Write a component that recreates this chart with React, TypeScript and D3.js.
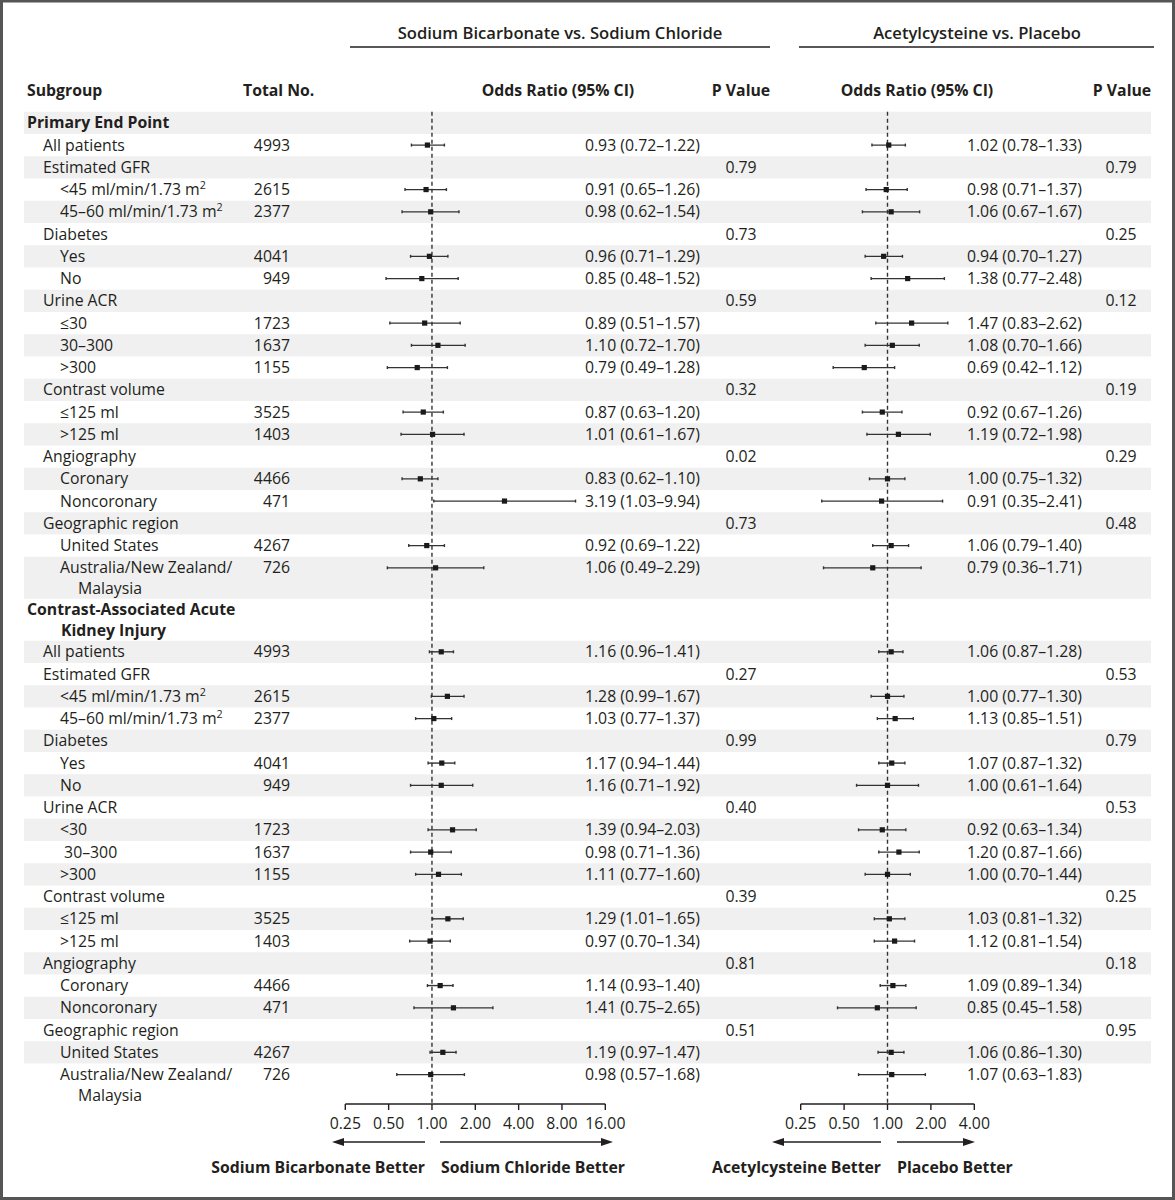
import React from "react";
import * as d3 from "d3";

// ---------- DATA ----------
const rowLabels: string[] = [
  "Primary End Point", "All patients", "Estimated GFR", "<45 ml/min/1.73 m|2", "45–60 ml/min/1.73 m|2",
  "Diabetes", "Yes", "No", "Urine ACR", "≤30", "30–300", ">300", "Contrast volume", "≤125 ml", ">125 ml",
  "Angiography", "Coronary", "Noncoronary", "Geographic region", "United States", "Australia/New Zealand/\nMalaysia",
  "Contrast-Associated Acute\nKidney Injury", "All patients", "Estimated GFR", "<45 ml/min/1.73 m|2", "45–60 ml/min/1.73 m|2",
  "Diabetes", "Yes", "No", "Urine ACR", "<30", " 30–300", ">300", "Contrast volume", "≤125 ml", ">125 ml",
  "Angiography", "Coronary", "Noncoronary", "Geographic region", "United States", "Australia/New Zealand/\nMalaysia",
];
const rowLevels: number[] = [
  0, 1, 1, 2, 2, 1, 2, 2, 1, 2, 2, 2, 1, 2, 2, 1, 2, 2, 1, 2, 2,
  0, 1, 1, 2, 2, 1, 2, 2, 1, 2, 2, 2, 1, 2, 2, 1, 2, 2, 1, 2, 2,
];
const totals: (number | null)[] = [
  null, 4993, null, 2615, 2377, null, 4041, 949, null, 1723, 1637, 1155, null, 3525, 1403, null, 4466, 471, null, 4267, 726,
  null, 4993, null, 2615, 2377, null, 4041, 949, null, 1723, 1637, 1155, null, 3525, 1403, null, 4466, 471, null, 4267, 726,
];
const bicarbOR: (number | null)[] = [
  null, 0.93, null, 0.91, 0.98, null, 0.96, 0.85, null, 0.89, 1.10, 0.79, null, 0.87, 1.01, null, 0.83, 3.19, null, 0.92, 1.06,
  null, 1.16, null, 1.28, 1.03, null, 1.17, 1.16, null, 1.39, 0.98, 1.11, null, 1.29, 0.97, null, 1.14, 1.41, null, 1.19, 0.98,
];
const bicarbLo: (number | null)[] = [
  null, 0.72, null, 0.65, 0.62, null, 0.71, 0.48, null, 0.51, 0.72, 0.49, null, 0.63, 0.61, null, 0.62, 1.03, null, 0.69, 0.49,
  null, 0.96, null, 0.99, 0.77, null, 0.94, 0.71, null, 0.94, 0.71, 0.77, null, 1.01, 0.70, null, 0.93, 0.75, null, 0.97, 0.57,
];
const bicarbHi: (number | null)[] = [
  null, 1.22, null, 1.26, 1.54, null, 1.29, 1.52, null, 1.57, 1.70, 1.28, null, 1.20, 1.67, null, 1.10, 9.94, null, 1.22, 2.29,
  null, 1.41, null, 1.67, 1.37, null, 1.44, 1.92, null, 2.03, 1.36, 1.60, null, 1.65, 1.34, null, 1.40, 2.65, null, 1.47, 1.68,
];
const bicarbP: (string | null)[] = [
  null, null, "0.79", null, null, "0.73", null, null, "0.59", null, null, null, "0.32", null, null, "0.02", null, null, "0.73", null, null,
  null, null, "0.27", null, null, "0.99", null, null, "0.40", null, null, null, "0.39", null, null, "0.81", null, null, "0.51", null, null,
];
const acetylOR: (number | null)[] = [
  null, 1.02, null, 0.98, 1.06, null, 0.94, 1.38, null, 1.47, 1.08, 0.69, null, 0.92, 1.19, null, 1.00, 0.91, null, 1.06, 0.79,
  null, 1.06, null, 1.00, 1.13, null, 1.07, 1.00, null, 0.92, 1.20, 1.00, null, 1.03, 1.12, null, 1.09, 0.85, null, 1.06, 1.07,
];
const acetylLo: (number | null)[] = [
  null, 0.78, null, 0.71, 0.67, null, 0.70, 0.77, null, 0.83, 0.70, 0.42, null, 0.67, 0.72, null, 0.75, 0.35, null, 0.79, 0.36,
  null, 0.87, null, 0.77, 0.85, null, 0.87, 0.61, null, 0.63, 0.87, 0.70, null, 0.81, 0.81, null, 0.89, 0.45, null, 0.86, 0.63,
];
const acetylHi: (number | null)[] = [
  null, 1.33, null, 1.37, 1.67, null, 1.27, 2.48, null, 2.62, 1.66, 1.12, null, 1.26, 1.98, null, 1.32, 2.41, null, 1.40, 1.71,
  null, 1.28, null, 1.30, 1.51, null, 1.32, 1.64, null, 1.34, 1.66, 1.44, null, 1.32, 1.54, null, 1.34, 1.58, null, 1.30, 1.83,
];
const acetylP: (string | null)[] = [
  null, null, "0.79", null, null, "0.25", null, null, "0.12", null, null, null, "0.19", null, null, "0.29", null, null, "0.48", null, null,
  null, null, "0.53", null, null, "0.79", null, null, "0.53", null, null, null, "0.25", null, null, "0.18", null, null, "0.95", null, null,
];
const bicarbTicks: number[] = [0.25, 0.5, 1, 2, 4, 8, 16];
const acetylTicks: number[] = [0.25, 0.5, 1, 2, 4];

// ---------- LAYOUT ----------
const FONT = "'Open Sans', 'Noto Sans', sans-serif";
const FS = 15.8;
const TXT = "#231f20";
const W = 1175, H = 1200;
const TOP0 = 111.7, ROW_H = 22.25, DOUBLE_H = 42, LINE2 = 21;
const indentX = [27, 43, 60];
const AXIS_Y = 1104;

const xB = d3.scaleLog().base(2).domain([0.25, 16]).range([345.3, 605.3]);
const xA = d3.scaleLog().base(2).domain([0.25, 4]).range([800.7, 974.3]);

const fmt = d3.format(".2f");

function Label({ text, x, y, bold }: { text: string; x: number; y: number; bold: boolean }) {
  const parts = text.split("|");
  return (
    <text x={x} y={y} dy="0.35em" fontWeight={bold ? 700 : 400} xmlSpace="preserve">
      {parts[0]}
      {parts[1] ? (
        <tspan fontSize={FS * 0.68} dy="-0.55em">{parts[1]}</tspan>
      ) : null}
    </text>
  );
}

function Arrow({ x1, x2, y }: { x1: number; x2: number; y: number }) {
  const dir = Math.sign(x2 - x1);
  const hl = 12, hw = 4;
  return (
    <g>
      <line x1={x1} x2={x2 - dir * hl} y1={y} y2={y} stroke={TXT} strokeWidth={1.5} />
      <path d={`M${x2},${y} L${x2 - dir * hl},${y - hw} L${x2 - dir * hl},${y + hw} Z`} fill={TXT} />
    </g>
  );
}

export default function App() {
  const tops: number[] = [];
  const heights: number[] = [];
  let t = TOP0;
  rowLabels.forEach((lab) => {
    const h = lab.includes("\n") ? DOUBLE_H : ROW_H;
    tops.push(t);
    heights.push(h);
    t += h;
  });

  const forest = (
    scale: d3.ScaleLogarithmic<number, number>,
    or: (number | null)[], lo: (number | null)[], hi: (number | null)[], key: string
  ) =>
    or.map((v, i) => {
      if (v == null) return null;
      const cy = tops[i] + ROW_H / 2;
      const x1 = scale(lo[i] as number), x2 = scale(hi[i] as number), xc = scale(v);
      return (
        <g key={key + i}>
          <line x1={x1} x2={x2} y1={cy} y2={cy} stroke="#333" strokeWidth={1.4} />
          <line x1={x1} x2={x1} y1={cy - 1.5} y2={cy + 1.5} stroke="#333" strokeWidth={1.4} />
          <line x1={x2} x2={x2} y1={cy - 1.5} y2={cy + 1.5} stroke="#333" strokeWidth={1.4} />
          <rect x={xc - 2.6} y={cy - 2.6} width={5.2} height={5.2} fill="#1a1a1a" />
        </g>
      );
    });

  const axis = (scale: d3.ScaleLogarithmic<number, number>, ticks: number[], key: string) => (
    <g key={key}>
      <line x1={scale(ticks[0])} x2={scale(ticks[ticks.length - 1])} y1={AXIS_Y} y2={AXIS_Y} stroke={TXT} strokeWidth={1.4} />
      {ticks.map((tk) => (
        <g key={key + tk}>
          <line x1={scale(tk)} x2={scale(tk)} y1={AXIS_Y} y2={AXIS_Y + 6} stroke={TXT} strokeWidth={1.4} />
          <text x={scale(tk)} y={1123} dy="0.35em" textAnchor="middle">{fmt(tk)}</text>
        </g>
      ))}
    </g>
  );

  return (
    <svg width={W} height={H} style={{ position: "absolute", left: 0, top: 0, background: "#fff" }}
      fontFamily={FONT} fontSize={FS} fill={TXT}>
      <rect x={0} y={0} width={W} height={H} fill="#fff" />
      {tops.map((tp, i) =>
        i % 2 === 0 ? <rect key={"s" + i} x={24} y={tp} width={1151 - 24} height={heights[i]} fill="#f0f0f1" /> : null
      )}

      <text x={560} y={33} dy="0.35em" textAnchor="middle" fontWeight={600} fontSize={16.6}>Sodium Bicarbonate vs. Sodium Chloride</text>
      <line x1={350} x2={770} y1={47} y2={47} stroke={TXT} strokeWidth={1.4} />
      <text x={977} y={33} dy="0.35em" textAnchor="middle" fontWeight={600} fontSize={16.6}>Acetylcysteine vs. Placebo</text>
      <line x1={799} x2={1154} y1={47} y2={47} stroke={TXT} strokeWidth={1.4} />

      <g fontWeight={700}>
        <text x={27} y={90} dy="0.35em">Subgroup</text>
        <text x={243} y={90} dy="0.35em">Total No.</text>
        <text x={558} y={90} dy="0.35em" textAnchor="middle">Odds Ratio (95% CI)</text>
        <text x={741} y={90} dy="0.35em" textAnchor="middle">P Value</text>
        <text x={917} y={90} dy="0.35em" textAnchor="middle">Odds Ratio (95% CI)</text>
        <text x={1122} y={90} dy="0.35em" textAnchor="middle">P Value</text>
      </g>

      <line x1={xB(1)} x2={xB(1)} y1={TOP0} y2={AXIS_Y} stroke="#333" strokeWidth={1.4} strokeDasharray="4,3" />
      <line x1={xA(1)} x2={xA(1)} y1={TOP0} y2={AXIS_Y} stroke="#333" strokeWidth={1.4} strokeDasharray="4,3" />

      {rowLabels.map((lab, i) => {
        const cy = tops[i] + ROW_H / 2;
        const lvl = rowLevels[i];
        const lines = lab.split("\n");
        const bold = lvl === 0;
        const x0 = indentX[lvl];
        return (
          <g key={"r" + i}>
            <Label text={lines[0]} x={x0} y={cy} bold={bold} />
            {lines[1] ? <Label text={lines[1]} x={lvl === 0 ? 61 : 78} y={cy + LINE2} bold={bold} /> : null}
            {totals[i] != null ? <text x={290} y={cy} dy="0.35em" textAnchor="end">{totals[i]}</text> : null}
            {bicarbOR[i] != null ? (
              <text x={700} y={cy} dy="0.35em" textAnchor="end">
                {`${fmt(bicarbOR[i] as number)} (${fmt(bicarbLo[i] as number)}–${fmt(bicarbHi[i] as number)})`}
              </text>
            ) : null}
            {bicarbP[i] != null ? <text x={741} y={cy} dy="0.35em" textAnchor="middle">{bicarbP[i]}</text> : null}
            {acetylOR[i] != null ? (
              <text x={1082} y={cy} dy="0.35em" textAnchor="end">
                {`${fmt(acetylOR[i] as number)} (${fmt(acetylLo[i] as number)}–${fmt(acetylHi[i] as number)})`}
              </text>
            ) : null}
            {acetylP[i] != null ? <text x={1121} y={cy} dy="0.35em" textAnchor="middle">{acetylP[i]}</text> : null}
          </g>
        );
      })}

      {forest(xB, bicarbOR, bicarbLo, bicarbHi, "b")}
      {forest(xA, acetylOR, acetylLo, acetylHi, "a")}

      {axis(xB, bicarbTicks, "axB")}
      {axis(xA, acetylTicks, "axA")}

      <Arrow x1={425} x2={332} y={1142} />
      <Arrow x1={440} x2={613} y={1142} />
      <Arrow x1={881} x2={772} y={1142} />
      <Arrow x1={897} x2={975} y={1142} />

      <g fontWeight={700}>
        <text x={425} y={1167} dy="0.35em" textAnchor="end">Sodium Bicarbonate Better</text>
        <text x={441} y={1167} dy="0.35em">Sodium Chloride Better</text>
        <text x={881} y={1167} dy="0.35em" textAnchor="end">Acetylcysteine Better</text>
        <text x={897} y={1167} dy="0.35em">Placebo Better</text>
      </g>

      <rect x={1.5} y={1} width={W - 3} height={H - 2.5} fill="none" stroke="#555" strokeWidth={3} />
    </svg>
  );
}
